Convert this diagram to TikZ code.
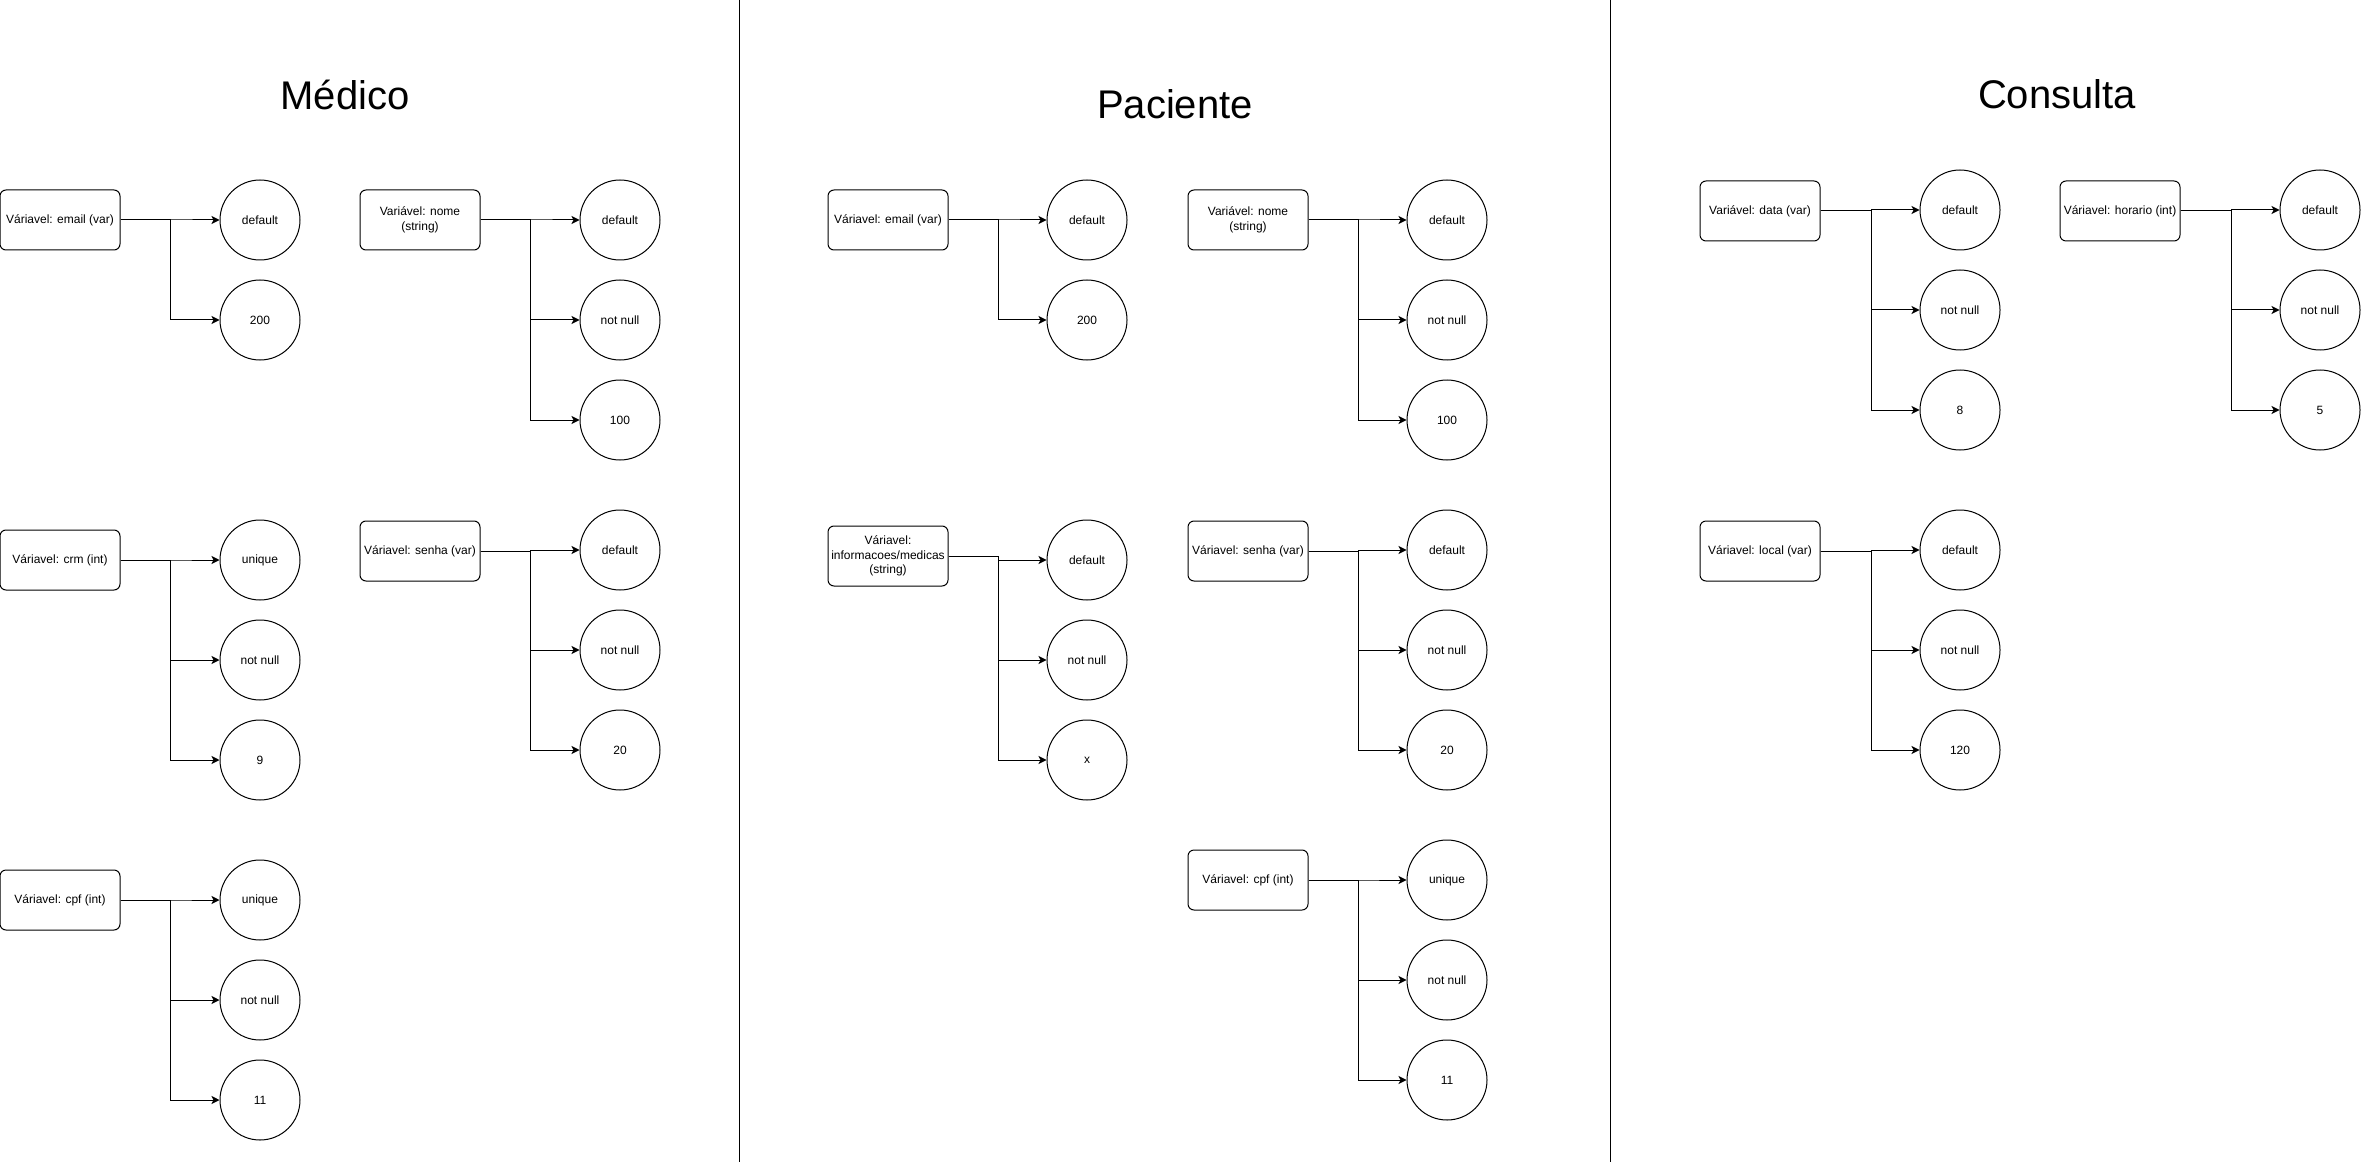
\documentclass[tikz,border=0pt]{standalone}
\usepackage{fontspec}
\setmainfont{Liberation Sans}
\usetikzlibrary{arrows.meta}
\tikzset{
  varbox/.style={draw, line width=0.75pt, rounded corners=4.5pt, minimum width=90pt, minimum height=45pt, inner sep=1pt, align=center, font=\fontsize{9pt}{11pt}\selectfont},
  attr/.style={draw, circle, line width=0.75pt, minimum size=60pt, inner sep=0pt, align=center, font=\fontsize{9pt}{11pt}\selectfont},
  conn/.style={line width=0.75pt, -{Stealth[length=6pt,width=6pt,inset=1.5pt]}},
  divider/.style={line width=0.75pt},
  heading/.style={anchor=base, font=\fontsize{30pt}{36pt}\selectfont}
}
\begin{document}
\begin{tikzpicture}[x=0.75pt, y=-0.75pt]
\useasboundingbox (0,0) rectangle (2361,1162);
% dividers
\coordinate (d1t) at (739,0); \coordinate (d1b) at (739,1162);
\coordinate (d2t) at (1610,0); \coordinate (d2b) at (1610,1162);
\draw[divider] (d1t) -- (d1b);
\draw[divider] (d2t) -- (d2b);
% headings
\node[heading] (hmed) at (345,110) {Médico};
\node[heading] (hpac) at (1175,119) {Paciente};
\node[heading] (hcon) at (2057,109) {Consulta};

% ---------------- Medico ----------------
\node[varbox] (me) at (60,220) {Váriavel: email (var)};
\node[attr] (me1) at (260,220) {default};
\node[attr] (me2) at (260,320) {200};
\coordinate (fme) at (170,0);
\foreach \c in {me1,me2} \draw[conn] (me.east) -- (me.east -| fme) |- (\c.west);

\node[varbox] (mn) at (420,220) {Variável: nome\\(string)};
\node[attr] (mn1) at (620,220) {default};
\node[attr] (mn2) at (620,320) {not null};
\node[attr] (mn3) at (620,420) {100};
\coordinate (fmn) at (530,0);
\foreach \c in {mn1,mn2,mn3} \draw[conn] (mn.east) -- (mn.east -| fmn) |- (\c.west);

\node[varbox] (mc) at (60,560) {Váriavel: crm (int)};
\node[attr] (mc1) at (260,560) {unique};
\node[attr] (mc2) at (260,660) {not null};
\node[attr] (mc3) at (260,760) {9};
\coordinate (fmc) at (170,0);
\foreach \c in {mc1,mc2,mc3} \draw[conn] (mc.east) -- (mc.east -| fmc) |- (\c.west);

\node[varbox] (ms) at (420,551) {Váriavel: senha (var)};
\node[attr] (ms1) at (620,550) {default};
\node[attr] (ms2) at (620,650) {not null};
\node[attr] (ms3) at (620,750) {20};
\coordinate (fms) at (530,0);
\foreach \c in {ms1,ms2,ms3} \draw[conn] (ms.east) -- (ms.east -| fms) |- (\c.west);

\node[varbox] (mp) at (60,900) {Váriavel: cpf (int)};
\node[attr] (mp1) at (260,900) {unique};
\node[attr] (mp2) at (260,1000) {not null};
\node[attr] (mp3) at (260,1100) {11};
\coordinate (fmp) at (170,0);
\foreach \c in {mp1,mp2,mp3} \draw[conn] (mp.east) -- (mp.east -| fmp) |- (\c.west);

% ---------------- Paciente ----------------
\node[varbox] (pe) at (888,220) {Váriavel: email (var)};
\node[attr] (pe1) at (1087,220) {default};
\node[attr] (pe2) at (1087,320) {200};
\coordinate (fpe) at (998,0);
\foreach \c in {pe1,pe2} \draw[conn] (pe.east) -- (pe.east -| fpe) |- (\c.west);

\node[varbox] (pn) at (1248,220) {Variável: nome\\(string)};
\node[attr] (pn1) at (1447,220) {default};
\node[attr] (pn2) at (1447,320) {not null};
\node[attr] (pn3) at (1447,420) {100};
\coordinate (fpn) at (1358,0);
\foreach \c in {pn1,pn2,pn3} \draw[conn] (pn.east) -- (pn.east -| fpn) |- (\c.west);

\node[varbox] (pi) at (888,556) {Váriavel:\\informacoes/medicas\\(string)};
\node[attr] (pi1) at (1087,560) {default};
\node[attr] (pi2) at (1087,660) {not null};
\node[attr] (pi3) at (1087,760) {x};
\coordinate (fpi) at (998,0);
\foreach \c in {pi1,pi2,pi3} \draw[conn] (pi.east) -- (pi.east -| fpi) |- (\c.west);

\node[varbox] (ps) at (1248,551) {Váriavel: senha (var)};
\node[attr] (ps1) at (1447,550) {default};
\node[attr] (ps2) at (1447,650) {not null};
\node[attr] (ps3) at (1447,750) {20};
\coordinate (fps) at (1358,0);
\foreach \c in {ps1,ps2,ps3} \draw[conn] (ps.east) -- (ps.east -| fps) |- (\c.west);

\node[varbox] (pc) at (1248,880) {Váriavel: cpf (int)};
\node[attr] (pc1) at (1447,880) {unique};
\node[attr] (pc2) at (1447,980) {not null};
\node[attr] (pc3) at (1447,1080) {11};
\coordinate (fpc) at (1358,0);
\foreach \c in {pc1,pc2,pc3} \draw[conn] (pc.east) -- (pc.east -| fpc) |- (\c.west);

% ---------------- Consulta ----------------
\node[varbox] (cd) at (1760,211) {Variável: data (var)};
\node[attr] (cd1) at (1960,210) {default};
\node[attr] (cd2) at (1960,310) {not null};
\node[attr] (cd3) at (1960,410) {8};
\coordinate (fcd) at (1871,0);
\foreach \c in {cd1,cd2,cd3} \draw[conn] (cd.east) -- (cd.east -| fcd) |- (\c.west);

\node[varbox] (ch) at (2120,211) {Váriavel: horario (int)};
\node[attr] (ch1) at (2320,210) {default};
\node[attr] (ch2) at (2320,310) {not null};
\node[attr] (ch3) at (2320,410) {5};
\coordinate (fch) at (2231,0);
\foreach \c in {ch1,ch2,ch3} \draw[conn] (ch.east) -- (ch.east -| fch) |- (\c.west);

\node[varbox] (cl) at (1760,551) {Váriavel: local (var)};
\node[attr] (cl1) at (1960,550) {default};
\node[attr] (cl2) at (1960,650) {not null};
\node[attr] (cl3) at (1960,750) {120};
\coordinate (fcl) at (1871,0);
\foreach \c in {cl1,cl2,cl3} \draw[conn] (cl.east) -- (cl.east -| fcl) |- (\c.west);
\end{tikzpicture}
\end{document}
